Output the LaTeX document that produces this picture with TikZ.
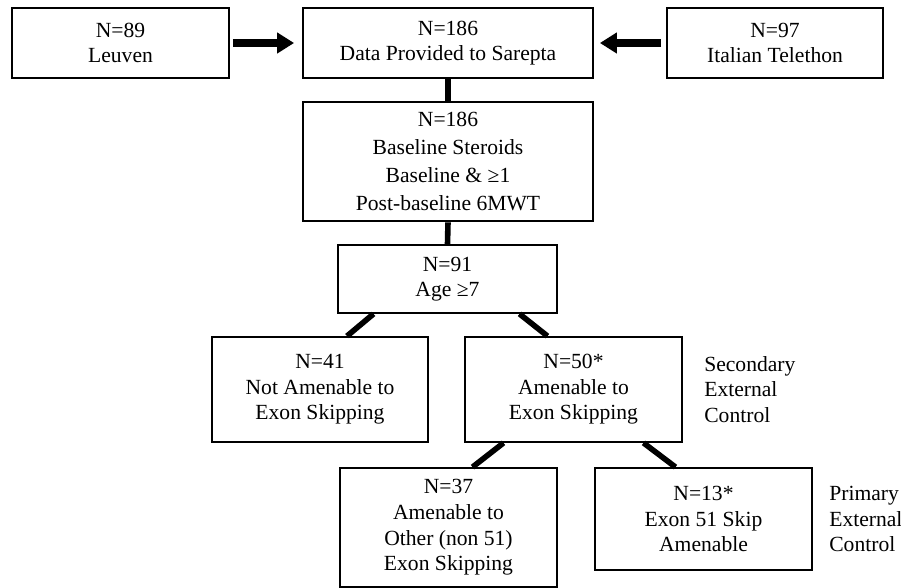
\documentclass[tikz,border=0pt]{standalone}
\usepackage{fontspec}
\setmainfont{Liberation Serif}
\usetikzlibrary{positioning,calc,arrows.meta}

\begin{document}
\begin{tikzpicture}[
    x=1pt, y=1pt,
    box/.style={rectangle, draw, line width=0.9pt, fill=white, align=center, inner sep=2pt, font=\fontsize{10.8}{12.8}\selectfont},
    bigbox/.style={box, line width=1.4pt, font=\fontsize{10.8}{14}\selectfont},
    link/.style={line width=2.8pt},
    feed/.style={line width=4pt, -{Triangle[length=8.5pt,width=10pt]}},
    note/.style={anchor=west, align=left, inner sep=0pt, font=\fontsize{10.8}{12.6}\selectfont}
]
    \useasboundingbox (0,0) rectangle (450.5,-294);

    % Sources
    \node[box, minimum width=108.5, minimum height=35] (leuven) at (60.25,-21.5) {N=89\\Leuven};
    \node[box, minimum width=145, minimum height=35] (data) at (224,-21.5) {N=186\\Data Provided to Sarepta};
    \node[box, minimum width=108, minimum height=35] (italy) at (387.5,-21.5) {N=97\\Italian Telethon};

    % Selection
    \node[bigbox, minimum width=145, minimum height=59.5] (base) at (224,-80.75) {
        N=186\\
        Baseline Steroids\\
        Baseline \& ≥1\\
        Post-baseline 6MWT
    };
    \node[box, minimum width=109.5, minimum height=34] (age) at (223.75,-139.5) {N=91\\Age ≥7};

    % Amenability split
    \node[box, minimum width=108, minimum height=52.5] (notam) at (160,-194.75) {N=41\\Not Amenable to\\Exon Skipping};
    \node[box, minimum width=108.5, minimum height=52.5] (amen) at (286.75,-194.75) {N=50*\\Amenable to\\Exon Skipping};
    \node[box, minimum width=108.5, minimum height=59.5] (other) at (224.25,-263.75) {N=37\\Amenable to\\Other (non 51)\\Exon Skipping};
    \node[box, minimum width=108.5, minimum height=51] (ex51) at (351.75,-259.5) {N=13*\\Exon 51 Skip\\Amenable};

    % Control labels
    \node[note, right=10.5pt of amen] (second) {Secondary\\External\\Control};
    \node[note, right=8pt of ex51] (prim) {Primary\\External\\Control};

    \draw[feed, shorten <=1.5pt, shorten >=4pt] (leuven.east) -- (data.west);
    \draw[feed, shorten <=2.5pt, shorten >=3pt] (italy.west) -- (data.east);
    \draw[link] (data.south) -- (base.north);
    \draw[link] (base.south) -- (age.north);
    \draw[link] ([xshift=-37pt]age.south) -- ([xshift=13.5pt]notam.north);
    \draw[link] ([xshift=36pt]age.south) -- ([xshift=-13pt]amen.north);
    \draw[link] ([xshift=-35pt]amen.south) -- ([xshift=12pt]other.north);
    \draw[link] ([xshift=35pt]amen.south) -- ([xshift=-14pt]ex51.north);
\end{tikzpicture}
\end{document}
